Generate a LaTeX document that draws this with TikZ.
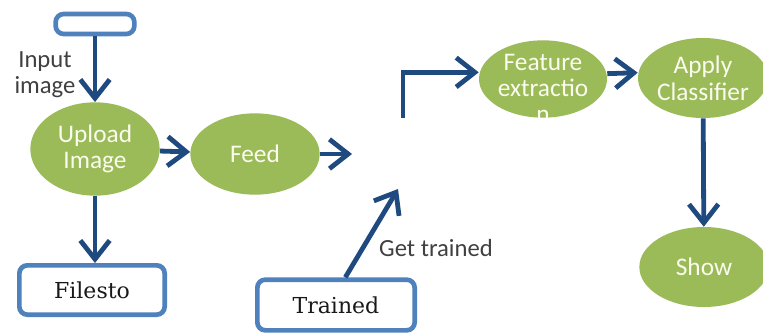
\documentclass[tikz,border=0pt]{standalone}
\usepackage{fontspec}
\newfontfamily\calibri{Carlito}
\newfontfamily\cambria{DejaVu Serif}
\usetikzlibrary{shapes.geometric,arrows.meta}
\definecolor{leafgreen}{HTML}{9BBB59}
\definecolor{linkblue}{HTML}{1F4A7F}
\definecolor{boxblue}{HTML}{4F81BD}
\definecolor{labelgray}{HTML}{404040}
\definecolor{ovaltext}{HTML}{FBFBEE}

\begin{document}
\begin{tikzpicture}[x=0.75pt, y=-0.75pt,
    oval/.style={ellipse, fill=leafgreen, inner sep=0pt, text=ovaltext,
        font=\calibri\fontsize{19}{20}\selectfont, align=center},
    box/.style={rectangle, rounded corners=6pt, draw=boxblue, line width=3.5pt,
        fill=white, inner sep=0pt, text=black!90, font=\cambria\fontsize{16.5}{18}\selectfont},
    link/.style={draw=linkblue, line width=3.6pt, -{Straight Barb[length=14pt, width=22pt]}},
    note/.style={text=labelgray, font=\calibri\fontsize{18.5}{19.5}\selectfont, align=center}
]
\useasboundingbox (0,0) rectangle (763,335);

% labels first, the shapes go over them
\node[note] (inlbl) at (45,75) {Input\\image};
\node[note] (getlbl) at (436,248) {Get trained};

% boxes
\node[box, minimum width=59pt, minimum height=15pt] (src) at (95,24) {};
\node[box, minimum width=109pt, minimum height=37pt] (files) at (92,290) {Filesto};
\node[box, minimum width=118pt, minimum height=38pt] (trained) at (336,305) {Trained};

% ovals
\node[oval, minimum width=97pt, minimum height=70pt] (up) at (95,149) {Upload\\Image};
\node[oval, minimum width=97pt, minimum height=61pt] (feed) at (255,154) {Feed};
\node[oval, minimum width=96pt, minimum height=58pt, path picture={
    \node[text=ovaltext, font=\calibri\fontsize{19}{19.5}\selectfont, align=center]
        at ([yshift=-7pt]path picture bounding box.center) {Feature\\extractio\\n};
    }] (feat) at (543,79) {};
\node[oval, minimum width=94pt, minimum height=60pt] (apply) at (703,78) {Apply\\Classifier};
\node[oval, minimum width=97pt, minimum height=60pt] (show) at (704,267) {Show};

% connectors
\coordinate (feedout) at (352,154);
\coordinate (bend) at (403,118);
\coordinate (gettip) at (398,189);
\draw[link] (src) -- (up);
\draw[link] (up) -- (feed);
\draw[link] (up.south) -- (up.south |- files.north);
\draw[link] (feed) -- (feedout);
\draw[link] (bend) |- ([yshift=5pt]feat.west);
\draw[link] ([yshift=4pt]feat.east) -- ([yshift=4pt]apply.west);
\draw[link] (apply) -- (show);
\draw[link] ([xshift=7pt]trained.north) -- (gettip);
\end{tikzpicture}
\end{document}
